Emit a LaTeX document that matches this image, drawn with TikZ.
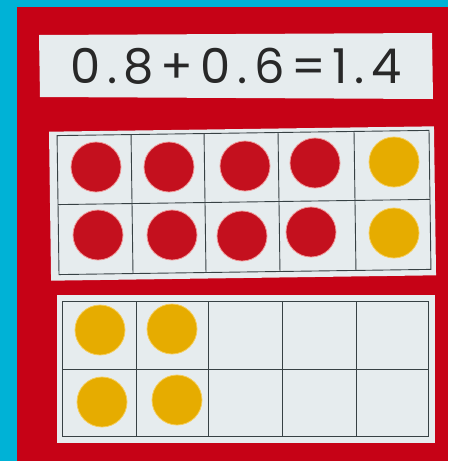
\documentclass[tikz,border=0pt]{standalone}
\usepackage{fontspec}
\setmainfont{Poppins}
\definecolor{bgblue}{RGB}{0,178,214}
\definecolor{board}{RGB}{198,2,22}
\definecolor{paperc}{RGB}{230,236,238}
\definecolor{gridc}{RGB}{55,65,68}
\definecolor{cred}{RGB}{196,16,30}
\definecolor{credrim}{RGB}{240,150,150}
\definecolor{cyel}{RGB}{230,172,0}
\definecolor{cyelrim}{RGB}{245,205,90}
\definecolor{ink}{RGB}{40,40,40}
\tikzset{
  paper/.style={fill=paperc, draw=none},
  gridl/.style={draw=gridc, line width=0.9pt},
  redc/.style={circle, fill=cred, draw=credrim, line width=0.8pt, minimum size=50pt, inner sep=0pt},
  yelc/.style={circle, fill=cyel, draw=cyelrim, line width=0.8pt, minimum size=50pt, inner sep=0pt},
}
\begin{document}
\begin{tikzpicture}[x=1pt,y=-1pt]
\useasboundingbox (0,0) rectangle (448,461);
\fill[bgblue] (0,0) rectangle (448,461);
\fill[board] (17,7) rectangle (448,461);
% equation strip
\fill[paperc] (39,35) -- (432,33) -- (433,99) -- (40,97) -- cycle;
\node[text=ink, font=\fontsize{48}{48}\addfontfeature{LetterSpace=14}\selectfont, inner sep=0pt] (eq) at (236,66) {0.8+0.6=1.4};
% top ten frame
\begin{scope}[rotate around={0.8:(243,202)}]
\fill[paperc] (50,129) rectangle (435,278);
\draw[gridl] (58,133) rectangle (430,272);
\draw[gridl] (58,202) -- (430,202);
\foreach \x in {132,205,279,355} \draw[gridl] (\x,133) -- (\x,272);
\end{scope}
\node[redc] (r1) at (96,167) {};
\node[redc] (r2) at (169,167) {};
\node[redc] (r3) at (245,166) {};
\node[redc] (r4) at (315,163) {};
\node[yelc] (y1) at (394,162) {};
\node[redc] (r5) at (98,235) {};
\node[redc] (r6) at (172,235) {};
\node[redc] (r7) at (242,236) {};
\node[redc] (r8) at (311,232) {};
\node[yelc] (y2) at (394,233) {};
% bottom ten frame
\fill[paperc] (57,295) rectangle (435,443);
\draw[gridl] (62,301) rectangle (428,436);
\draw[gridl] (62,369) -- (428,369);
\foreach \x in {136,208,282,356} \draw[gridl] (\x,301) -- (\x,436);
\node[yelc] (y3) at (100,330) {};
\node[yelc] (y4) at (172,329) {};
\node[yelc] (y5) at (102,402) {};
\node[yelc] (y6) at (177,400) {};
\end{tikzpicture}
\end{document}
